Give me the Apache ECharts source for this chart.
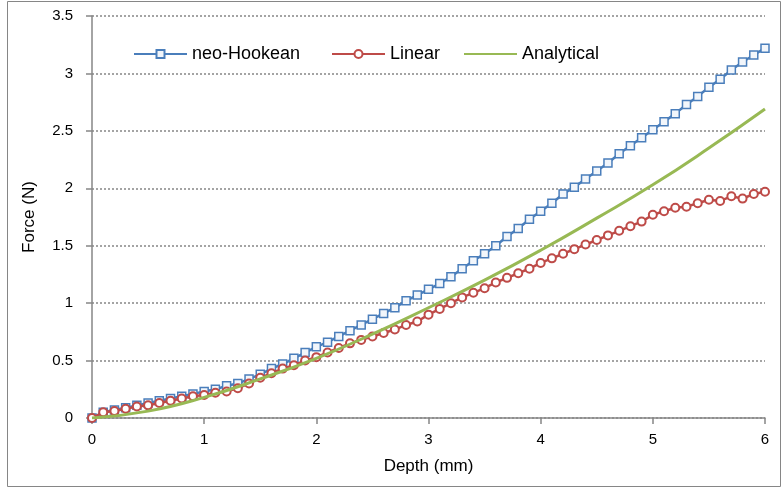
<!DOCTYPE html>
<html>
<head>
<meta charset="utf-8">
<script src="https://cdn.jsdelivr.net/npm/echarts@6/dist/echarts.min.js"></script>
<style>html,body{margin:0;padding:0;background:#fff;}#c{width:784px;height:491px;}</style>
</head>
<body>
<div id="c"></div>
<script>
// Depth (mm) sample points for the FE series
var depthMM = [0,0.1,0.2,0.3,0.4,0.5,0.6,0.7,0.8,0.9,1.0,1.1,1.2,1.3,1.4,1.5,1.6,1.7,1.8,1.9,2.0,
  2.1,2.2,2.3,2.4,2.5,2.6,2.7,2.8,2.9,3.0,3.1,3.2,3.3,3.4,3.5,3.6,3.7,3.8,3.9,4.0,
  4.1,4.2,4.3,4.4,4.5,4.6,4.7,4.8,4.9,5.0,5.1,5.2,5.3,5.4,5.5,5.6,5.7,5.8,5.9,6.0];
var neoHookean = [0,0.05,0.07,0.09,0.11,0.13,0.15,0.17,0.19,0.21,0.23,0.25,0.28,0.30,0.34,0.38,0.43,0.47,0.52,0.57,0.62,
  0.66,0.71,0.76,0.81,0.86,0.91,0.96,1.02,1.07,1.12,1.17,1.23,1.30,1.37,1.43,1.50,1.58,1.65,1.73,1.80,
  1.87,1.95,2.01,2.08,2.15,2.22,2.30,2.37,2.44,2.51,2.58,2.65,2.73,2.80,2.88,2.95,3.03,3.10,3.16,3.22];
var linear = [0,0.05,0.06,0.08,0.10,0.11,0.13,0.15,0.17,0.19,0.20,0.22,0.23,0.26,0.30,0.35,0.39,0.43,0.46,0.50,0.53,
  0.57,0.61,0.65,0.68,0.71,0.74,0.77,0.81,0.84,0.90,0.95,1.00,1.05,1.09,1.13,1.18,1.22,1.26,1.30,1.35,
  1.39,1.43,1.47,1.51,1.55,1.59,1.63,1.67,1.71,1.77,1.80,1.83,1.84,1.87,1.90,1.89,1.93,1.91,1.95,1.97];
var analyticalDepth = [0,0.5,1.0,1.5,2.0,2.5,3.0,3.5,4.0,4.5,5.0,5.5,6.0];
var analytical = [0,0.06,0.18,0.34,0.52,0.73,0.96,1.20,1.46,1.74,2.03,2.35,2.69];
var seriesNames = ['neo-Hookean','Linear','Analytical'];
var xTitle = 'Depth (mm)';
var yTitle = 'Force (N)';

function pairs(xs, ys){ return xs.map(function(x,i){ return [x, ys[i]]; }); }

var FONT = '"Liberation Sans", Arial, sans-serif';
var AX = '#868686';
var chart = echarts.init(document.getElementById('c'), null, {renderer:'canvas'});
function leg(name, left, hideSymbol){
  var l = {data:[name], left:left, top:40, orient:'horizontal', itemWidth:53, itemHeight:10, itemGap:5,
    textStyle:{fontFamily:FONT, fontSize:18, color:'#000'}, selectedMode:false};
  if (hideSymbol) l.itemStyle = {opacity:0};
  return l;
}
chart.setOption({
  animation:false,
  backgroundColor:'#fff',
  graphic:[{type:'rect', shape:{x:7.5,y:1.5,width:773,height:485}, style:{fill:'none', stroke:AX, lineWidth:1}, silent:true}],
  legend:[leg(seriesNames[0],128), leg(seriesNames[1],326), leg(seriesNames[2],458,true)],
  grid:{left:92, right:19, top:16, bottom:73, containLabel:false},
  xAxis:{type:'value', min:0, max:6, interval:1, name:xTitle, nameLocation:'middle', nameGap:40,
    nameTextStyle:{fontFamily:FONT, fontSize:17, color:'#000'},
    axisLine:{show:true, onZero:false, lineStyle:{color:AX, width:1.5}},
    axisTick:{show:true, inside:false, length:6, lineStyle:{color:AX, width:1.5}},
    axisLabel:{fontFamily:FONT, fontSize:15, color:'#000', margin:14},
    splitLine:{show:false}},
  yAxis:{type:'value', min:0, max:3.5, interval:0.5, name:yTitle, nameLocation:'middle', nameGap:54,
    nameTextStyle:{fontFamily:FONT, fontSize:17, color:'#000'},
    axisLine:{show:true, lineStyle:{color:AX, width:1.5}},
    axisTick:{show:true, inside:false, length:6, lineStyle:{color:AX, width:1.5}},
    axisLabel:{fontFamily:FONT, fontSize:15, color:'#000', margin:19},
    splitLine:{show:true, lineStyle:{color:AX, width:1.5, type:[2,2]}}},
  series:[
    {name:seriesNames[0], type:'line', data:pairs(depthMM, neoHookean), symbol:'rect', symbolSize:8,
      showAllSymbol:true, lineStyle:{color:'#4A7EBB', width:2.5}, z:3,
      itemStyle:{color:'#F2F6FB', borderColor:'#4A7EBB', borderWidth:1.5}},
    {name:seriesNames[1], type:'line', data:pairs(depthMM, linear), symbol:'emptyCircle', symbolSize:8,
      showAllSymbol:true, lineStyle:{color:'#BE4B48', width:2.5}, z:4,
      itemStyle:{color:'#BE4B48', borderColor:'#BE4B48', borderWidth:1.5}},
    {name:seriesNames[2], type:'line', data:pairs(analyticalDepth, analytical), symbol:'none', smooth:true,
      lineStyle:{color:'#98B954', width:3}, itemStyle:{color:'#98B954'}, z:5}
  ]
});
</script>
</body>
</html>
